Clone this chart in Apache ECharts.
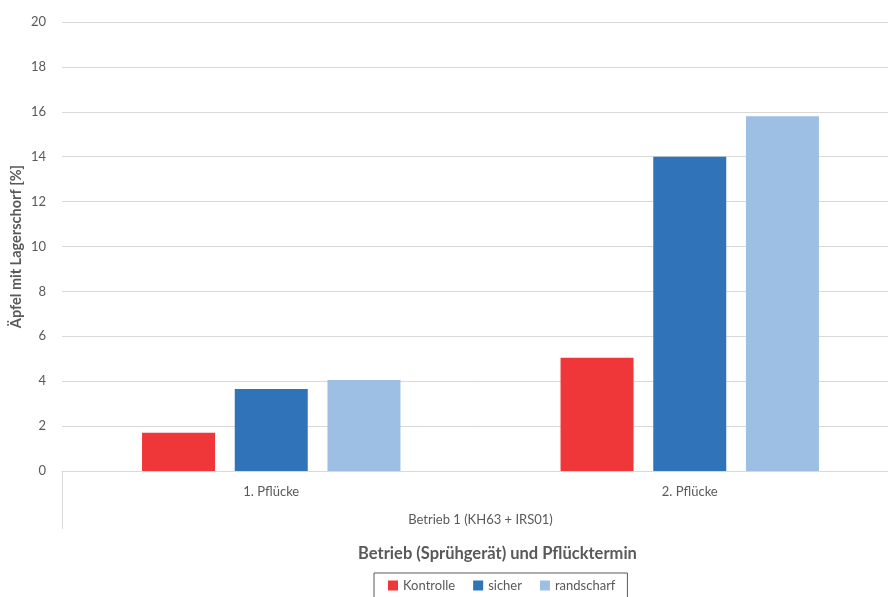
<!DOCTYPE html>
<html>
<head>
<meta charset="utf-8">
<script src="https://cdn.jsdelivr.net/npm/echarts@6/dist/echarts.min.js"></script>
<style>
  html, body { margin: 0; padding: 0; background: #fff; }
  #chart { width: 888px; height: 597px; }
</style>
</head>
<body>
<div id="chart"></div>
<script>
const categories = ['1. Pflücke', '2. Pflücke']
const groupLabels = ['Betrieb 1 (KH63 + IRS01)']
const kontrolle = [1.7, 5.05]
const sicher = [3.65, 14.0]
const randscharf = [4.05, 15.8]

const font = 'Lato, "Noto Sans", sans-serif'
const grey = '#595959'
const lineGrey = '#D9D9D9'

const chart = echarts.init(document.getElementById('chart'), null, { renderer: 'canvas' })

const makeSeries = (name, data, color) => ({
  name,
  type: 'bar',
  data,
  barWidth: 73,
  barGap: '27%',
  itemStyle: { color },
  emphasis: { disabled: true },
})

chart.setOption({
  animation: false,
  textStyle: { fontFamily: font },
  grid: {
    left: 62,
    top: 22,
    width: 837,
    height: 449,
    containLabel: false,
    outerBoundsMode: 'none',
  },
  legend: {
    left: 374,
    top: 573,
    icon: 'rect',
    itemWidth: 10,
    itemHeight: 10,
    itemGap: 18,
    padding: [6, 12, 10, 14],
    borderColor: grey,
    borderWidth: 1,
    textStyle: { color: grey, fontSize: 13, fontFamily: font },
    data: ['Kontrolle', 'sicher', 'randscharf'],
  },
  xAxis: [
    {
      type: 'category',
      data: categories,
      position: 'bottom',
      axisLine: { lineStyle: { color: lineGrey } },
      axisTick: { show: false },
      axisLabel: { color: grey, fontSize: 13, margin: 14, fontFamily: font },
    },
    {
      type: 'category',
      data: groupLabels,
      position: 'bottom',
      axisLine: { show: false },
      axisTick: { show: true, length: 58, lineStyle: { color: lineGrey } },
      axisLabel: { color: grey, fontSize: 13, margin: 42, fontFamily: font },
      name: 'Betrieb (Sprühgerät) und Pflücktermin',
      nameLocation: 'middle',
      nameGap: 74,
      nameMoveOverlap: false,
      nameTextStyle: {
        color: grey,
        fontSize: 16.5,
        fontWeight: 'bold',
        fontFamily: font,
        padding: [0, 0, 0, 34],
      },
    },
  ],
  yAxis: {
    type: 'value',
    min: 0,
    max: 20,
    interval: 2,
    axisLine: { show: false },
    axisTick: { show: false },
    splitLine: { lineStyle: { color: lineGrey } },
    axisLabel: { color: grey, fontSize: 13, margin: 16, fontFamily: font },
    name: 'Äpfel mit Lagerschorf [%]',
    nameLocation: 'middle',
    nameGap: 38,
    nameMoveOverlap: false,
    nameTextStyle: { color: grey, fontSize: 14.5, fontWeight: 'bold', fontFamily: font },
  },
  series: [
    makeSeries('Kontrolle', kontrolle, '#EF3639'),
    makeSeries('sicher', sicher, '#3173B8'),
    makeSeries('randscharf', randscharf, '#9DBFE4'),
  ],
})

window.addEventListener('resize', () => {
  chart.resize()
})
</script>
</body>
</html>
